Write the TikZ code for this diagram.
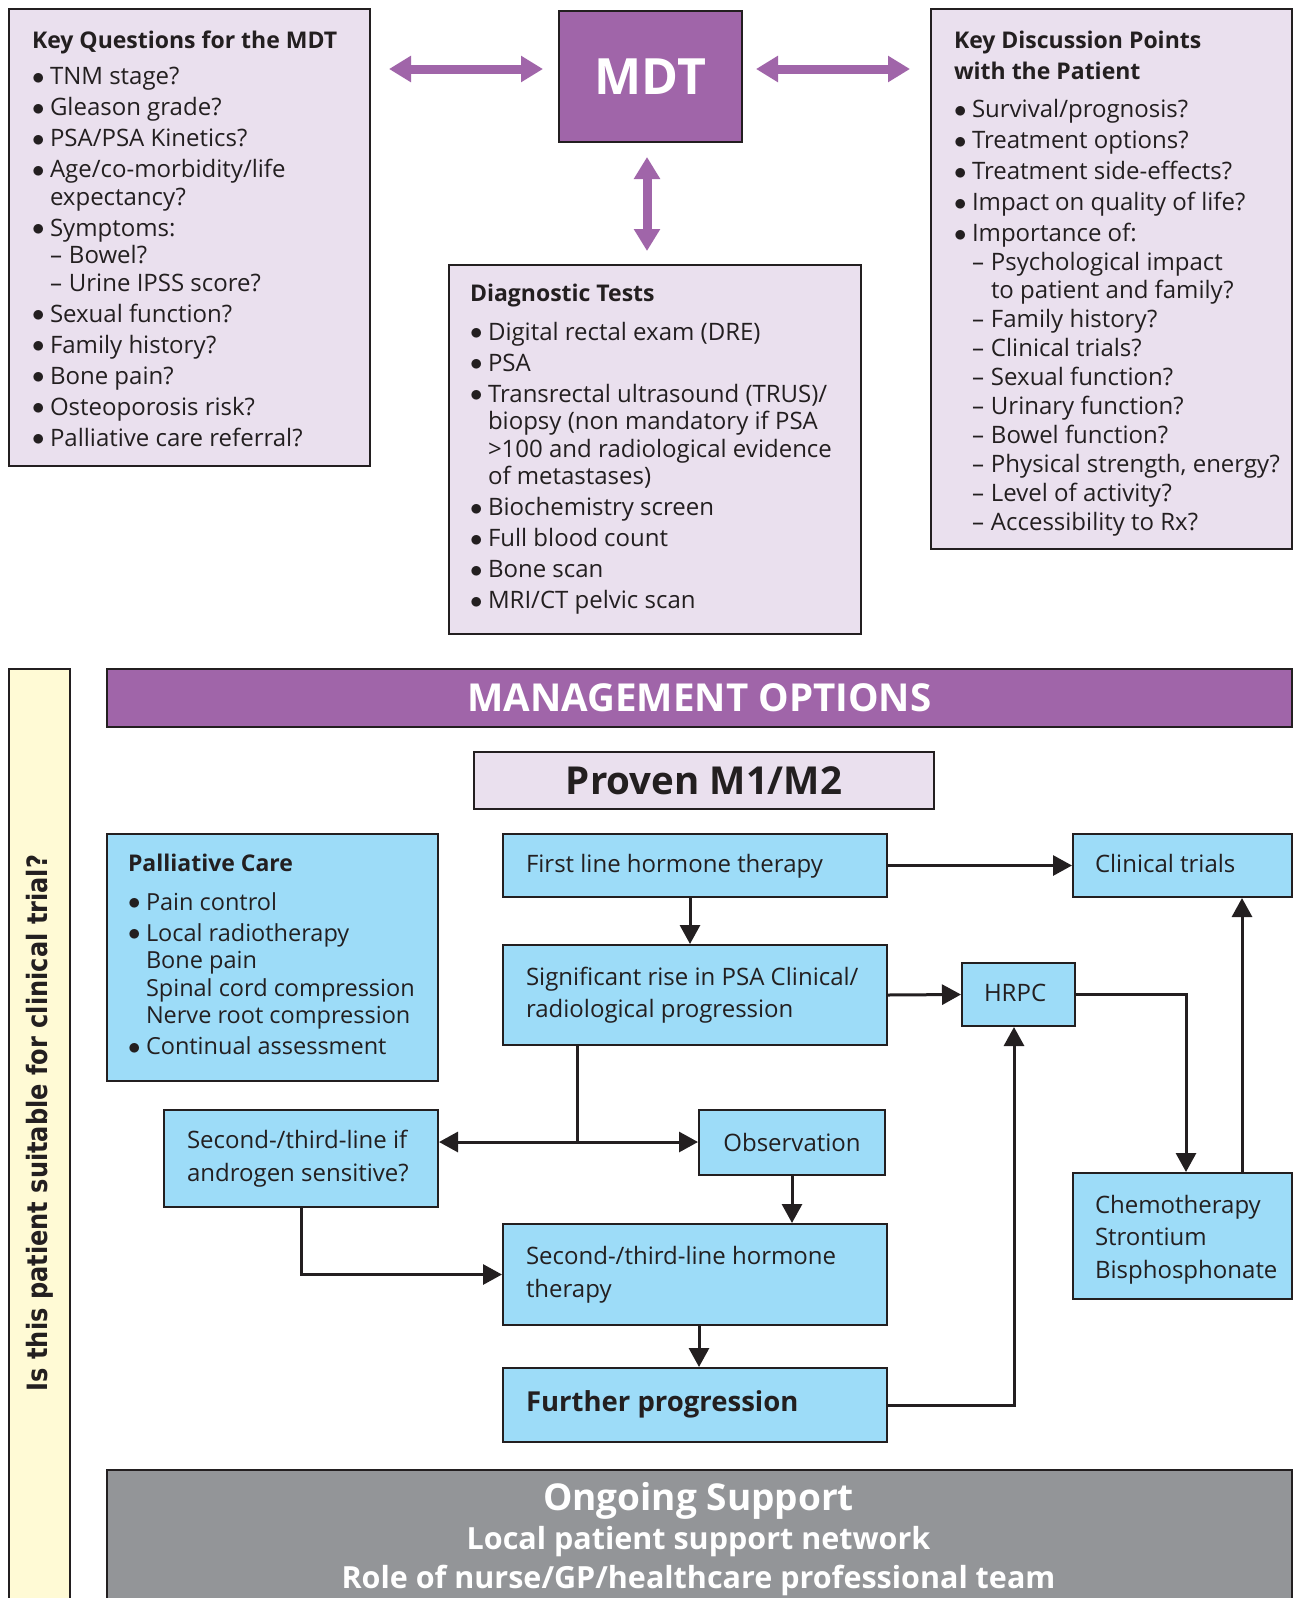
\documentclass[tikz,border=0pt]{standalone}
\usepackage{fontspec}
\setmainfont{Open Sans}
\newfontfamily\vfont[FakeStretch=0.86]{DejaVu Sans}
\usetikzlibrary{arrows.meta,calc}
\definecolor{lav}{HTML}{EAE0EE}
\definecolor{pur}{HTML}{A065A9}
\definecolor{blu}{HTML}{9DDCF8}
\definecolor{yel}{HTML}{FFFAD5}
\definecolor{gry}{HTML}{939598}
\definecolor{lc}{HTML}{231F20}
\newcommand\bul{\makebox[18pt][l]{\raisebox{0.5pt}{$\bullet$}}}
\newcommand\dsh{\makebox[19pt][l]{–}}
\newcommand\lstbox[2]{\makebox[#1][l]{\begin{tabular}{@{}l@{}}#2\end{tabular}}}
\newcommand\ttl[1]{{\fontsize{23}{27.5}\selectfont\bfseries #1}}
\begin{document}
\begin{tikzpicture}[x=1pt,y=-1pt,
  box/.style={draw=lc, line width=2pt, inner sep=0pt, anchor=north west, text=lc},
  lavbox/.style={box, fill=lav, font=\fontsize{24}{27.5}\selectfont},
  blubox/.style={box, fill=blu, font=\fontsize{24}{32.5}\selectfont},
  arr/.style={draw=lc, line width=3pt, -{Triangle[length=19pt,width=20pt]}},
  dblarr/.style={draw=lc, line width=3pt, {Triangle[length=19pt,width=20pt]}-{Triangle[length=19pt,width=20pt]}},
  parr/.style={draw=pur, line width=9pt, {Triangle[length=22pt,width=25pt]}-{Triangle[length=22pt,width=25pt]}},
  ]
\clip (0,0) rectangle (1293,1598);
\fill[white] (0,0) rectangle (1293,1598);

% top boxes
\node[lavbox, minimum width=361pt, minimum height=457pt] (kq) at (8,8) {\raisebox{-4pt}[\height][\depth]{\lstbox{315pt}{%
\ttl{Key Questions for the MDT}\\[9pt]
\bul TNM stage?\\[3.5pt]
\bul Gleason grade?\\[3.5pt]
\bul PSA/PSA Kinetics?\\[3.5pt]
\bul Age/co-morbidity/life\\
\hspace*{18pt}expectancy?\\[3.5pt]
\bul Symptoms:\\
\hspace*{18pt}\dsh Bowel?\\
\hspace*{18pt}\dsh Urine IPSS score?\\[3.5pt]
\bul Sexual function?\\[3.5pt]
\bul Family history?\\[3.5pt]
\bul Bone pain?\\[3.5pt]
\bul Osteoporosis risk?\\[3.5pt]
\bul Palliative care referral?}}};

\node[box, fill=pur, minimum width=183pt, minimum height=131pt, text=white, font=\fontsize{50}{60}\selectfont\bfseries] (mdt) at (558,10) {MDT};

\node[lavbox, minimum width=412pt, minimum height=369pt] (dt) at (448,264) {\lstbox{370pt}{%
\ttl{Diagnostic Tests}\\[11pt]
\bul Digital rectal exam (DRE)\\[3.5pt]
\bul PSA\\[3.5pt]
\bul Transrectal ultrasound (TRUS)/\\
\hspace*{18pt}biopsy (non mandatory if PSA\\
\hspace*{18pt}>100 and radiological evidence\\
\hspace*{18pt}of metastases)\\[3.5pt]
\bul Biochemistry screen\\[3.5pt]
\bul Full blood count\\[3.5pt]
\bul Bone scan\\[3.5pt]
\bul MRI/CT pelvic scan}};

\node[lavbox, minimum width=361pt, minimum height=540pt] (kd) at (930,8) {\raisebox{-4.5pt}[\height][\depth]{\lstbox{315pt}{%
\ttl{Key Discussion Points}\\[3.5pt]
\ttl{with the Patient}\\[11pt]
\bul Survival/prognosis?\\[3.5pt]
\bul Treatment options?\\[3.5pt]
\bul Treatment side-effects?\\[3.5pt]
\bul Impact on quality of life?\\[3.5pt]
\bul Importance of:\\[1.5pt]
\hspace*{18pt}\dsh Psychological impact\\
\hspace*{18pt}\hspace*{19pt}to patient and family?\\[1.5pt]
\hspace*{18pt}\dsh Family history?\\[1.5pt]
\hspace*{18pt}\dsh Clinical trials?\\[1.5pt]
\hspace*{18pt}\dsh Sexual function?\\[1.5pt]
\hspace*{18pt}\dsh Urinary function?\\[1.5pt]
\hspace*{18pt}\dsh Bowel function?\\[1.5pt]
\hspace*{18pt}\dsh Physical strength, energy?\\[1.5pt]
\hspace*{18pt}\dsh Level of activity?\\[1.5pt]
\hspace*{18pt}\dsh Accessibility to Rx?}}};

% purple arrows
\coordinate (ay) at (0,69);
\coordinate (ax) at (647,0);
\draw[parr, shorten <=18pt, shorten >=15pt] (kq.east |- ay) -- (mdt.west |- ay);
\draw[parr, shorten <=13pt, shorten >=20pt] (mdt.east |- ay) -- (kd.west |- ay);
\draw[parr, shorten <=14pt, shorten >=13pt] (mdt.south -| ax) -- (dt.north -| ax);

% lower section
\node[box, fill=yel, minimum width=61pt, minimum height=960pt] (yb) at (8,668) {};
\node[rotate=90, text=lc, font=\vfont\bfseries\fontsize{28}{30}\selectfont] (yt) at (40,1123) {Is this patient suitable for clinical trial?};

\node[box, fill=pur, minimum width=1185pt, minimum height=58pt, text=white, font=\fontsize{38.5}{44}\selectfont\bfseries] (mo) at (106,668) {MANAGEMENT OPTIONS};
\node[box, fill=lav, minimum width=460pt, minimum height=57pt, font=\fontsize{38.5}{44}\selectfont\bfseries] (pm) at (473,751) {Proven M1/M2};

\node[blubox, minimum width=331pt, minimum height=247pt, font=\fontsize{23.5}{27.5}\selectfont] (pc) at (106,833) {\lstbox{289pt}{%
\ttl{Palliative Care}\\[11pt]
\bul Pain control\\[3.5pt]
\bul Local radiotherapy\\
\hspace*{18pt}Bone pain\\
\hspace*{18pt}Spinal cord compression\\
\hspace*{18pt}Nerve root compression\\[3.5pt]
\bul Continual assessment}};

\node[blubox, minimum width=384pt, minimum height=63pt] (flh) at (502,833) {\lstbox{338pt}{First line hormone therapy}};
\node[blubox, minimum width=219pt, minimum height=63pt] (ct) at (1072,833) {\lstbox{175pt}{Clinical trials}};
\node[blubox, minimum width=384pt, minimum height=100pt] (sig) at (502,944) {\lstbox{338pt}{Significant rise in PSA Clinical/\\radiological progression}};
\node[blubox, minimum width=113pt, minimum height=63pt] (hrpc) at (961,962) {\lstbox{69pt}{HRPC}};
\node[blubox, minimum width=274pt, minimum height=97pt] (s2if) at (163,1109) {\lstbox{228pt}{Second-/third-line if\\androgen sensitive?}};
\node[blubox, minimum width=186pt, minimum height=65pt] (obs) at (698,1109) {Observation};
\node[blubox, minimum width=384pt, minimum height=101pt] (s2h) at (502,1223) {\lstbox{338pt}{Second-/third-line hormone\\therapy}};
\node[blubox, minimum width=384pt, minimum height=74pt, font=\fontsize{27.5}{32}\selectfont\bfseries] (fp) at (502,1367) {\lstbox{338pt}{Further progression}};
\node[blubox, minimum width=219pt, minimum height=126pt] (chemo) at (1072,1172) {\raisebox{-3pt}[\height][\depth]{\lstbox{175pt}{Chemotherapy\\Strontium\\Bisphosphonate}}};

\node[box, fill=gry, minimum width=1185pt, minimum height=160pt] (os) at (106,1469) {};
\node[anchor=base, text=white, align=center, inner sep=0pt, font=\bfseries\fontsize{30}{39}\selectfont] (ost) at (698.5,1588) {%
{\fontsize{37}{39}\selectfont Ongoing Support}\\
{\fontsize{30.5}{39}\selectfont Local patient support network}\\
{\fontsize{30.5}{39}\selectfont Role of nurse/GP/healthcare professional team}};

% connectors
\draw[arr] ([xshift=-5pt]flh.south) -- ([xshift=-5pt]sig.north);
\draw[arr] (flh.east) -- (ct.west);
\draw[arr] (sig.east) -- (hrpc.west);
\draw[arr] (hrpc.east) -| ([xshift=3.5pt]chemo.north);
\draw[arr] ([xshift=59.5pt]chemo.north) -- ([xshift=59.5pt]ct.south);
\coordinate (j) at (577,1142);
\draw[draw=lc, line width=3pt] (sig.south -| j) -- (j);
\draw[dblarr] (s2if.east |- j) -- (obs.west |- j);
\draw[arr] (obs.south) -- (obs.south |- s2h.north);
\draw[arr] (s2if.south) |- (s2h.west);
\draw[arr] ([xshift=4pt]s2h.south) -- ([xshift=4pt]fp.north);
\draw[arr] (fp.east) -| ([xshift=-4.5pt]hrpc.south);
\end{tikzpicture}
\end{document}
